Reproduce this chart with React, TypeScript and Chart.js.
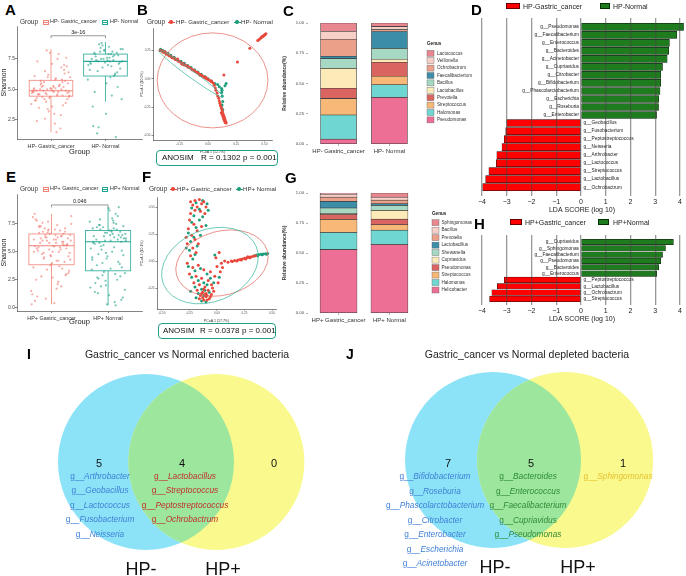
import React, { useEffect, useRef } from "react";
import { Chart, registerables } from "chart.js";

Chart.register(...registerables);

const FONT = "'Liberation Sans', Arial, Helvetica, sans-serif";
Chart.defaults.font.family = FONT;
Chart.defaults.color = "#333";

// ================= Panels A / E : Shannon index =================
const hpNegGroups = ["HP- Gastric_cancer", "HP- Normal"];
const hpPosGroups = ["HP+ Gastric_cancer", "HP+ Normal"];
const aYTicks = [2.5, 5, 7.5];
const eYTicks = [0, 2.5, 5, 7.5];
const jitterX = [-0.31,0.12,-0.05,0.27,-0.18,0.33,0.02,-0.26,0.19,-0.11,0.08,-0.34,0.24,-0.02,0.15,-0.22,0.30,-0.08,0.05,-0.29,0.21,-0.14,0.35,-0.04,0.11,-0.19,0.28,-0.33,0.0,0.17,-0.24,0.09,-0.12,0.32,-0.07,0.22,-0.27,0.04,0.14,-0.16,0.26,-0.35,0.07,-0.01,0.19,-0.21,0.31,-0.09,0.13,-0.3,0.23,-0.06,0.03,-0.25,0.34,-0.13,0.1,-0.2,0.25,-0.03,0.16,-0.32,0.06,-0.17,0.29,-0.1,0.2,-0.28,0.01,0.18,-0.23,0.12,-0.15,0.33,-0.06,0.27,-0.36,0.08,-0.02,0.21,-0.19,0.3,-0.11,0.05,-0.26,0.15,-0.08,0.24,-0.31,0.02,0.11,-0.14,0.35,-0.04,0.17,-0.22,0.09,-0.29,0.26,-0.16];
const aShannonGastric = [5.1,4.6,6.2,3.9,5.5,4.8,7.1,4.3,5.0,2.6,5.8,4.9,6.6,4.4,5.3,3.5,4.7,8.2,5.2,4.1,5.6,4.9,6.0,3.2,4.5,5.4,7.6,4.8,5.1,1.8,4.6,5.9,4.2,6.4,5.0,3.7,4.9,5.3,7.9,4.4,5.7,4.7,2.2,5.1,6.8,4.6,5.5,4.0,4.8,6.1,5.2,3.4,4.9,7.3,4.5,5.6,1.5,5.0,6.3,4.3,5.4,4.8,3.0,5.2,6.9,4.7,5.8,4.1,5.0,2.9,4.6,7.5,5.3,4.4,6.0,4.9,3.8,5.1,8.0,4.5,5.7,4.2,6.5,4.8,2.4,5.3,4.6,7.0,5.0,3.6];
const aShannonNormal = [7.4,8.1,6.5,7.8,7.0,8.5,7.2,6.2,7.9,8.3,7.5,4.5,7.1,8.0,6.8,7.6,2.0,7.3,8.7,6.0,7.7,5.2,8.2,7.4,6.6,7.9,1.4,7.2,8.4,6.3,7.5,3.0,7.8,8.0,6.9,7.3,4.2,8.6,7.1,5.8,7.6,8.2,1.1,7.4,6.7,8.1,7.0,3.6,7.7,8.8,6.4,7.2,5.5,7.9,1.9,8.3,7.5,6.1,4.8,7.3];
const eShannonGastric = [6.1,4.2,7.0,5.6,2.8,6.5,5.0,7.8,3.5,6.3,5.8,1.2,6.8,4.7,5.4,7.3,3.1,6.0,5.5,0.6,6.6,4.4,7.5,5.2,2.1,6.2,5.7,8.1,3.9,6.4,5.1,1.7,7.1,4.9,6.7,5.6,2.5,6.1,3.7,7.6,5.3,0.3,6.5,4.6,5.9,7.2,3.3,6.3,5.0,8.4,4.1,6.9,5.5,1.0,6.0,4.5,7.4,5.8,2.9,6.6,5.2,3.6,7.0,4.8,6.2,0.8,5.7,7.9,4.0,6.4,5.4,2.3,6.8,4.3,7.7,5.6,1.5,6.1,3.8,5.9,7.3,4.6,6.5,0.4,5.3,6.9,3.4,7.1,5.0,2.7,6.3,4.9,8.2,5.8,1.9,6.7,4.2,5.5,3.0,6.0];
const eShannonNormal = [6.5,3.0,7.4,5.9,1.8,6.8,4.6,8.2,2.7,6.2,5.6,0.5,7.1,3.9,6.0,8.7,2.2,6.6,5.2,7.8,1.3,6.3,4.4,7.5,3.4,6.9,5.8,0.9,7.2,4.1,6.4,8.9,2.5,6.1,5.4,7.0,1.6,6.7,3.6,7.7,5.0,0.3,6.5,4.8,7.3,2.9,6.0,5.7,8.4,3.2,6.8,4.3,1.1,7.6,5.5,6.2,2.0,7.0,3.8,6.6,5.9,0.7,7.9,4.5,6.3,2.4,5.1,7.4,3.1,6.9,1.4,6.1,4.0,8.0,5.3,2.8,6.7,0.2,7.2,4.7,6.4,3.5,5.8,9.0,1.9,6.0,4.9,7.1,2.6,6.5];
// [lower whisker, Q1, median, Q3, upper whisker]
const aBoxGastric = [1.5, 4.45, 4.9, 5.75, 8.3];
const aBoxNormal = [4.0, 6.1, 7.3, 7.9, 8.9];
const eBoxGastric = [0.3, 3.84, 5.54, 6.6, 8.4];
const eBoxNormal = [0.2, 3.3, 5.9, 6.9, 9.0];
const aPValue = "3e-16";
const ePValue = "0.046";

// ================= Panels B / F : PCoA =================
const bPcoaGastric = [[-0.425,0.252],[-0.41,0.25],[-0.4,0.238],[-0.385,0.232],[-0.37,0.22],[-0.36,0.218],[-0.345,0.205],[-0.33,0.2],[-0.315,0.188],[-0.3,0.182],[-0.29,0.172],[-0.275,0.168],[-0.26,0.155],[-0.25,0.152],[-0.235,0.14],[-0.22,0.133],[-0.21,0.124],[-0.195,0.118],[-0.18,0.106],[-0.165,0.1],[-0.15,0.09],[-0.14,0.082],[-0.125,0.074],[-0.11,0.064],[-0.095,0.056],[-0.08,0.045],[-0.07,0.04],[-0.055,0.03],[-0.04,0.02],[-0.03,0.012],[-0.015,0.004],[0.0,-0.006],[0.015,-0.014],[0.03,-0.026],[0.045,-0.036],[-0.38,0.24],[-0.32,0.19],[-0.27,0.175],[-0.23,0.13],[-0.18,0.112],[-0.12,0.07],[-0.07,0.032],[-0.02,0.014],[0.03,-0.018],[0.055,-0.055],[0.065,-0.08],[0.07,-0.1],[0.08,-0.125],[0.085,-0.15],[0.095,-0.17],[0.1,-0.195],[0.105,-0.215],[0.11,-0.235],[0.118,-0.255],[0.122,-0.27],[0.128,-0.29],[0.132,-0.305],[0.136,-0.318],[0.14,-0.33],[0.143,-0.342],[0.147,-0.352],[0.15,-0.362],[0.153,-0.372],[0.157,-0.382],[0.16,-0.39],[0.132,-0.335],[0.138,-0.355],[0.145,-0.37],[0.152,-0.385],[0.125,-0.315],[0.118,-0.3],[0.14,0.035],[0.26,0.15],[0.37,0.27],[0.44,0.34],[0.452,0.348],[0.462,0.358],[0.472,0.366],[0.482,0.374],[0.49,0.38],[0.498,0.388],[0.505,0.393],[0.512,0.4],[0.476,0.372],[0.494,0.384]];
const bPcoaNormal = [[-0.42,0.262],[-0.4,0.252],[-0.38,0.24],[-0.355,0.226],[-0.33,0.21],[-0.3,0.192],[-0.27,0.174],[-0.24,0.156],[-0.21,0.138],[-0.18,0.118],[-0.15,0.1],[-0.12,0.08],[-0.09,0.062],[-0.06,0.042],[-0.03,0.022],[0.0,0.002],[0.03,-0.018],[0.06,-0.04],[0.085,-0.05],[0.1,-0.07],[0.12,-0.085],[0.124,-0.1],[0.12,-0.12],[0.126,-0.15],[0.13,-0.2],[0.124,-0.23],[0.13,-0.27],[0.118,-0.25],[0.16,-0.04],[0.15,-0.06]];
const fPcoaGastric = [[-0.24,0.55],[-0.2,0.56],[-0.16,0.57],[-0.12,0.55],[-0.22,0.52],[-0.18,0.5],[-0.14,0.53],[-0.1,0.5],[-0.2,0.47],[-0.15,0.46],[-0.24,0.44],[-0.11,0.44],[-0.25,0.38],[-0.21,0.34],[-0.26,0.3],[-0.18,0.28],[-0.23,0.24],[-0.2,0.2],[-0.27,0.16],[-0.22,0.12],[-0.19,0.08],[-0.24,0.05],[-0.17,0.16],[-0.14,0.32],[-0.28,0.22],[-0.27,-0.02],[-0.22,-0.06],[-0.17,-0.04],[-0.12,-0.08],[-0.06,-0.1],[0.0,-0.05],[0.04,-0.02],[-0.25,-0.12],[-0.19,-0.14],[-0.14,-0.16],[-0.08,-0.18],[-0.02,-0.14],[0.03,-0.1],[-0.21,-0.2],[-0.16,-0.22],[-0.11,-0.24],[-0.05,-0.22],[0.01,-0.2],[-0.18,-0.27],[-0.13,-0.29],[-0.08,-0.27],[-0.03,-0.28],[-0.15,-0.32],[-0.1,-0.33],[-0.05,-0.31],[-0.12,-0.36],[-0.07,-0.35],[-0.14,-0.3],[-0.1,-0.3],[-0.09,-0.36],[-0.16,-0.35],[-0.04,-0.25],[0.05,-0.06],[0.07,0.0],[-0.01,0.03],[0.02,0.08],[-0.11,-0.31],[-0.13,-0.34],[-0.06,-0.33],[-0.12,-0.26],[-0.09,-0.32],[0.1,-0.01],[0.13,0.0],[0.16,0.005],[0.19,0.01],[0.21,0.015],[0.23,0.02],[0.25,0.025],[0.27,0.03],[0.29,0.035],[0.31,0.04],[0.33,0.045],[0.35,0.05],[0.14,-0.005],[0.18,0.0],[0.22,0.01],[0.26,0.02],[0.3,0.03],[0.28,0.04]];
const fPcoaNormal = [[-0.19,0.54],[-0.13,0.56],[-0.09,0.53],[-0.23,0.49],[-0.16,0.48],[-0.08,0.47],[-0.21,0.42],[-0.13,0.41],[-0.23,0.36],[-0.19,0.31],[-0.26,0.26],[-0.21,0.22],[-0.16,0.38],[-0.24,0.18],[-0.18,0.14],[-0.25,0.1],[-0.2,0.06],[-0.15,0.24],[-0.28,0.12],[-0.22,0.02],[-0.1,0.33],[-0.02,0.055],[-0.26,-0.05],[-0.2,-0.09],[-0.15,-0.07],[-0.09,-0.12],[-0.23,-0.15],[-0.17,-0.18],[-0.12,-0.2],[-0.06,-0.16],[-0.2,-0.24],[-0.14,-0.26],[-0.09,-0.22],[-0.17,-0.3],[-0.12,-0.32],[-0.07,-0.29],[-0.14,-0.37],[-0.1,-0.38],[-0.19,-0.34],[-0.03,-0.2],[0.02,-0.15],[-0.24,-0.28],[-0.11,-0.27],[0.34,0.05],[0.36,0.055],[0.38,0.06],[0.4,0.062],[0.42,0.065],[0.44,0.068],[0.46,0.07],[0.37,0.05],[0.41,0.058],[0.45,0.063]];
const bXTicks = [-0.25, 0, 0.25, 0.5];
const bYTicks = [-0.5, -0.25, 0, 0.25];
const fXTicks = [-0.5, -0.25, 0, 0.25, 0.5];
const fYTicks = [-0.25, 0, 0.25, 0.5];
// [cx, cy, rx, ry, angle]
const bEllipseGastric = [0.04, -0.013, 0.49, 0.42, 0];
const bEllipseNormal = [-0.15, 0.044, 0.35, 0.03, 36];
const fEllipseGastric = [0.045, -0.019, 0.427, 0.296, -15];
const fEllipseNormal = [-0.064, -0.042, 0.455, 0.333, -22];
const bAnosim = ["ANOSIM", "R = 0.1302", "p = 0.001"];
const fAnosim = ["ANOSIM", "R = 0.0378", "p = 0.001"];

// ================= Panels C / G : relative abundance =================
const cGenus = ["Pseudomonas","Halomonas","Streptococcus","Prevotella","Lactobacillus","Bacillus","Faecalibacterium","Ochrobactrum","Veillonella","Lactococcus"];
const cGastric = [0.04,0.20,0.135,0.085,0.165,0.08,0.02,0.14,0.065,0.07];
const cNormal = [0.385,0.105,0.07,0.115,0.025,0.09,0.14,0.015,0.025,0.03];
const gGenus = ["Helicobacter","Halomonas","Streptococcus","Pseudomonas","Cupriavidus","Shewanella","Lactobacillus","Prevotella","Bacillus","Sphingomonas"];
const gGastric = [0.528,0.142,0.11,0.04,0.01,0.045,0.055,0.035,0.025,0.01];
const gNormal = [0.57,0.12,0.045,0.047,0.073,0.04,0.015,0.03,0.025,0.035];
const genusPalette = ["#EE6F95","#6FD6D1","#F8B877","#DA6560","#FCEBB9","#A7D8C3","#3C8EA8","#EAA089","#F8CFC7","#E8878F"];
const abundanceTicks = [0, 0.25, 0.5, 0.75, 1];

// ================= Panels D / H : LDA =================
const dNormalGenus = ["Pseudomonas","Faecalibacterium","Enterococcus","Bacteroides","Acinetobacter","Cupriavidus","Citrobacter","Bifidobacterium","Phascolarctobacterium","Escherichia","Roseburia","Enterobacter"];
const dNormalLda = [4.14,3.87,3.57,3.54,3.48,3.29,3.22,3.22,3.19,3.14,3.13,3.05];
const dGastricGenus = ["Geobacillus","Fusobacterium","Peptostreptococcus","Neisseria","Arthrobacter","Lactococcus","Streptococcus","Lactobacillus","Ochrobactrum"];
const dGastricLda = [-3.0,-3.04,-3.1,-3.19,-3.4,-3.42,-3.72,-3.85,-3.97];
const hNormalGenus = ["Cupriavidus","Sphingomonas","Faecalibacterium","Pseudomonas","Bacteroides","Enterococcus"];
const hNormalLda = [3.73,3.41,3.29,3.22,3.14,3.06];
const hGastricGenus = ["Peptostreptococcus","Lactobacillus","Ochrobactrum","Streptococcus"];
const hGastricLda = [-3.1,-3.38,-3.6,-3.69];
const ldaTicks = [-4,-3,-2,-1,0,1,2,3,4];

// ================= Panels I / J : Venn =================
const iHpNegOnly = ["Arthrobacter","Geobacillus","Lactococcus","Fusobacterium","Neisseria"];
const iShared = ["Lactobacillus","Streptococcus","Peptostreptococcus","Ochrobactrum"];
const iHpPosOnly: string[] = [];
const jHpNegOnly = ["Bifidobacterium","Roseburia","Phascolarctobacterium","Citrobacter","Enterobacter","Escherichia","Acinetobacter"];
const jShared = ["Bacteroides","Enterococcus","Faecalibacterium","Cupriavidus","Pseudomonas"];
const jHpPosOnly = ["Sphingomonas"];

// ---------- colours ----------
const GC_BOX = "#F08377";
const N_BOX = "#22A794";
const GC_PT = "rgba(240,120,110,0.6)";
const N_PT = "rgba(30,160,140,0.6)";
const PC_RED = "#E8483B";
const PC_GREEN = "#1E9E7B";
const LDA_RED = "#FF0000";
const LDA_GREEN = "#1E7B1E";
const VENN_BLUE = "#8CE3F8";
const VENN_YELLOW = "#F9F98E";
const VENN_GREEN = "#9DE69E";

const base = (extra: any) => {
  const layout = { autoPadding: false, ...(extra.layout || {}) };
  return {
    animation: false,
    responsive: false,
    maintainAspectRatio: false,
    events: [],
    ...extra,
    layout,
    plugins: { legend: { display: false }, tooltip: { enabled: false } },
  };
};

const setTicks = (vals: number[]) => (s: any) => { s.ticks = vals.map((v) => ({ value: v })); };
const fixH = (h: number) => (s: any) => { s.height = h; s.paddingLeft = 0; s.paddingRight = 0; s.paddingTop = 0; s.paddingBottom = 0; };
const fixW = (w: number) => (s: any) => { s.width = w; s.paddingLeft = 0; s.paddingRight = 0; s.paddingTop = 0; s.paddingBottom = 0; };

// ---------- plugins ----------
function boxPlugin(stats: number[][], colors: string[], pText: string, bracketVal: number) {
  return {
    id: "boxes",
    beforeDatasetsDraw(chart: any) {
      const { ctx, scales: { x, y } } = chart;
      ctx.save();
      stats.forEach((s, i) => {
        const c = i + 1;
        const l = x.getPixelForValue(c - 0.4), r = x.getPixelForValue(c + 0.4), m = x.getPixelForValue(c);
        ctx.strokeStyle = colors[i];
        ctx.lineWidth = 0.8;
        ctx.beginPath();
        ctx.moveTo(m, y.getPixelForValue(s[0])); ctx.lineTo(m, y.getPixelForValue(s[1]));
        ctx.moveTo(m, y.getPixelForValue(s[3])); ctx.lineTo(m, y.getPixelForValue(s[4]));
        ctx.stroke();
        const t = y.getPixelForValue(s[3]), b = y.getPixelForValue(s[1]);
        ctx.strokeRect(l, t, r - l, b - t);
        ctx.lineWidth = 1.1;
        const md = y.getPixelForValue(s[2]);
        ctx.beginPath(); ctx.moveTo(l, md); ctx.lineTo(r, md); ctx.stroke();
      });
      ctx.restore();
    },
    afterDatasetsDraw(chart: any) {
      const { ctx, scales: { x, y } } = chart;
      const x1 = x.getPixelForValue(1), x2 = x.getPixelForValue(2), yy = y.getPixelForValue(bracketVal);
      ctx.save();
      ctx.strokeStyle = "#555"; ctx.lineWidth = 0.6;
      ctx.beginPath();
      ctx.moveTo(x1, yy + 2.5); ctx.lineTo(x1, yy); ctx.lineTo(x2, yy); ctx.lineTo(x2, yy + 2.5);
      ctx.stroke();
      ctx.fillStyle = "#222"; ctx.font = `5.5px ${FONT}`; ctx.textAlign = "center"; ctx.textBaseline = "alphabetic";
      ctx.fillText(pText, (x1 + x2) / 2, yy - 2);
      ctx.restore();
    },
  };
}

function ellipsePlugin(list: { e: number[]; color: string }[]) {
  return {
    id: "ellipses",
    afterDatasetsDraw(chart: any) {
      const { ctx, scales: { x, y } } = chart;
      ctx.save(); ctx.lineWidth = 0.7;
      list.forEach(({ e, color }) => {
        const [cx, cy, rx, ry, ang] = e;
        const px = x.getPixelForValue(cx), py = y.getPixelForValue(cy);
        const rpx = Math.abs(x.getPixelForValue(cx + rx) - px), rpy = Math.abs(y.getPixelForValue(cy + ry) - py);
        ctx.beginPath(); ctx.ellipse(px, py, rpx, rpy, (ang * Math.PI) / 180, 0, Math.PI * 2);
        ctx.strokeStyle = color; ctx.stroke();
      });
      ctx.restore();
    },
  };
}

function genusLegend(names: string[], x0: number, y0: number, first: number, step: number, textDx: number) {
  return {
    id: "genusLegend",
    afterDraw(chart: any) {
      const ctx = chart.ctx;
      ctx.save();
      ctx.textBaseline = "middle"; ctx.textAlign = "left";
      ctx.font = `bold 4.6px ${FONT}`; ctx.fillStyle = "#222";
      ctx.fillText("Genus", x0, y0);
      ctx.font = `4.6px ${FONT}`;
      const n = names.length;
      for (let k = 0; k < n; k++) {
        const idx = n - 1 - k;
        const yy = y0 + first + k * step;
        ctx.fillStyle = genusPalette[idx]; ctx.fillRect(x0, yy - 3, 7, 6);
        ctx.strokeStyle = "#666"; ctx.lineWidth = 0.4; ctx.strokeRect(x0, yy - 3, 7, 6);
        ctx.fillStyle = "#333"; ctx.fillText(names[idx], x0 + textDx, yy);
      }
      ctx.restore();
    },
  };
}

function ldaLabels(pos: string[], neg: string[]) {
  return {
    id: "ldaLabels",
    afterDatasetsDraw(chart: any) {
      const ctx = chart.ctx;
      const x0 = chart.scales.x.getPixelForValue(0);
      ctx.save(); ctx.font = `4.8px ${FONT}`; ctx.fillStyle = "#222"; ctx.textBaseline = "middle";
      chart.getDatasetMeta(0).data.forEach((el: any, i: number) => { ctx.textAlign = "right"; ctx.fillText("g__" + pos[i], x0 - 2, el.y); });
      chart.getDatasetMeta(1).data.forEach((el: any, i: number) => { ctx.textAlign = "left"; ctx.fillText("g__" + neg[i], x0 + 2.5, el.y); });
      ctx.restore();
    },
  };
}

const vennOverlap = {
  id: "vennOverlap",
  afterDatasetsDraw(chart: any) {
    const ctx = chart.ctx;
    const pts = chart.getDatasetMeta(0).data;
    const a = pts[0], b = pts[1];
    ctx.save();
    ctx.beginPath(); ctx.arc(a.x, a.y, a.options.radius, 0, Math.PI * 2); ctx.clip();
    ctx.beginPath(); ctx.arc(b.x, b.y, b.options.radius, 0, Math.PI * 2);
    ctx.fillStyle = VENN_GREEN; ctx.fill();
    ctx.restore();
  },
};

// ---------- configs ----------
const axisGrid = { drawOnChartArea: false, drawTicks: true, tickLength: 2, color: "#333", lineWidth: 0.6 };

function shannonConfig(gc: number[], nm: number[], stats: number[][], labels: string[], yTicks: number[], yMin: number, yMax: number, xMin: number, xMax: number, xH: number, pText: string, bracketVal: number) {
  return {
    type: "scatter",
    data: {
      datasets: [
        { data: gc.map((v, i) => ({ x: 1 + jitterX[i % jitterX.length], y: v })), backgroundColor: GC_PT, pointRadius: 1.1, borderWidth: 0 },
        { data: nm.map((v, i) => ({ x: 2 + jitterX[(i + 37) % jitterX.length] * 0.9, y: v })), backgroundColor: N_PT, pointRadius: 1.1, borderWidth: 0 },
      ],
    },
    options: base({
      layout: { padding: { top: 0, right: 4, left: 0, bottom: 0 } },
      scales: {
        x: {
          type: "linear", min: xMin, max: xMax, offset: false,
          afterFit: fixH(xH),
          afterBuildTicks: setTicks([1, 2]),
          ticks: { callback: (v: any) => labels[Math.round(v) - 1], font: { size: 5.4 }, padding: 2, maxRotation: 0, autoSkip: false, color: "#333" },
          grid: axisGrid, border: { color: "#333", width: 0.6 },
          title: { display: true, text: "Group", font: { size: 7.5 }, padding: 0, color: "#222" },
        },
        y: {
          type: "linear", min: yMin, max: yMax,
          afterFit: fixW(17),
          afterBuildTicks: setTicks(yTicks),
          ticks: { callback: (v: any) => Number(v).toFixed(1), font: { size: 5 }, padding: 0, color: "#444" },
          grid: axisGrid, border: { color: "#333", width: 0.6 },
          title: { display: true, text: "Shannon", font: { size: 7 }, padding: 0, color: "#222" },
        },
      },
    }),
    plugins: [boxPlugin(stats, [GC_BOX, N_BOX], pText, bracketVal)],
  };
}

function pcoaConfig(red: number[][], green: number[][], xt: number[], yt: number[], xr: number[], yr: number[], yW: number, padTop: number, padRight: number, ellRed: number[], ellGreen: number[], xTitle: string, yTitle: string) {
  const tick = { font: { size: 3 }, padding: 1, color: "#555", callback: (v: any) => Number(v).toFixed(2) };
  return {
    type: "scatter",
    data: {
      datasets: [
        { data: red.map(([x, y]) => ({ x, y })), backgroundColor: PC_RED, pointRadius: 1.5, borderWidth: 0 },
        { data: green.map(([x, y]) => ({ x, y })), backgroundColor: PC_GREEN, pointRadius: 1.5, borderWidth: 0 },
      ],
    },
    options: base({
      layout: { padding: { top: padTop, right: padRight, left: 0, bottom: 0 } },
      scales: {
        x: {
          type: "linear", min: xr[0], max: xr[1], offset: false,
          afterFit: fixH(14),
          afterBuildTicks: setTicks(xt), ticks: tick,
          grid: { ...axisGrid, tickLength: 1.5 }, border: { color: "#333", width: 0.6 },
          title: { display: true, text: xTitle, font: { size: 3.5 }, padding: 0, color: "#333" },
        },
        y: {
          type: "linear", min: yr[0], max: yr[1],
          afterFit: fixW(yW),
          afterBuildTicks: setTicks(yt), ticks: tick,
          grid: { ...axisGrid, tickLength: 1.5 }, border: { color: "#333", width: 0.6 },
          title: { display: true, text: yTitle, font: { size: 3.5 }, padding: 0, color: "#333" },
        },
      },
    }),
    plugins: [ellipsePlugin([{ e: ellRed, color: "#E0645A" }, { e: ellGreen, color: "#2FB59C" }])],
  };
}

function abundanceConfig(genus: string[], gastric: number[], normal: number[], labels: string[], thick: number, legendX: number, legendFirst: number, legendStep: number, textDx: number) {
  return {
    type: "bar",
    data: {
      datasets: genus.map((g, k) => ({
        label: g,
        data: [{ x: 1, y: gastric[k] }, { x: 2, y: normal[k] }],
        backgroundColor: genusPalette[k], borderColor: "#3a3a3a", borderWidth: 0.6, borderSkipped: false, barThickness: thick,
      })),
    },
    options: base({
      layout: { padding: { top: 8, right: 60, left: 0, bottom: 0 } },
      scales: {
        x: {
          type: "linear", min: 0.4, max: 2.6, stacked: true, offset: false,
          afterFit: fixH(16),
          afterBuildTicks: setTicks([1, 2]),
          ticks: { callback: (v: any) => labels[Math.round(v) - 1], font: { size: 6 }, padding: 2, maxRotation: 0, autoSkip: false, color: "#333" },
          grid: { ...axisGrid, offset: false, color: "#666", lineWidth: 0.5 }, border: { display: false },
        },
        y: {
          type: "linear", min: 0, max: 1, stacked: true,
          afterFit: fixW(30),
          afterBuildTicks: setTicks(abundanceTicks),
          ticks: { callback: (v: any) => Number(v).toFixed(2), font: { size: 4.2 }, padding: 2, color: "#444" },
          grid: { ...axisGrid, color: "#666", lineWidth: 0.5 }, border: { display: false },
          title: { display: true, text: "Relative abundance(%)", font: { size: 5, weight: "bold" }, padding: { top: 4, bottom: 0 }, color: "#333" },
        },
      },
    }),
    plugins: [genusLegend(genus, legendX, 29, legendFirst, legendStep, textDx)],
  };
}

function ldaConfig(posNames: string[], posVals: number[], negNames: string[], negVals: number[], yMin: number, yMax: number, thick: number) {
  const n = posVals.length;
  return {
    type: "bar",
    data: {
      datasets: [
        { data: posVals.map((v, i) => ({ x: v, y: i })), backgroundColor: LDA_GREEN, borderColor: "#111", borderWidth: 0.5, borderSkipped: false, barThickness: thick, grouped: false },
        { data: negVals.map((v, i) => ({ x: v, y: n + i })), backgroundColor: LDA_RED, borderColor: "#111", borderWidth: 0.5, borderSkipped: false, barThickness: thick, grouped: false },
      ],
    },
    options: base({
      indexAxis: "y",
      layout: { padding: { top: 6, right: 0, left: 8, bottom: 0 } },
      scales: {
        y: { type: "linear", reverse: true, min: yMin, max: yMax, display: false, offset: false, grid: { offset: false } },
        x: {
          type: "linear", min: -4.16, max: 4.24,
          afterFit: fixH(18),
          afterBuildTicks: setTicks(ldaTicks),
          ticks: { callback: (v: any) => (v < 0 ? "\u2212" + Math.abs(v) : String(v)), font: { size: 7 }, padding: 2, color: "#222" },
          grid: { color: "rgba(70,70,70,0.55)", lineWidth: 1.3, drawTicks: false, z: 1 },
          border: { display: false },
          title: { display: true, text: "LDA SCORE (log 10)", font: { size: 7 }, padding: 0, color: "#222" },
        },
      },
    }),
    plugins: [ldaLabels(posNames, negNames)],
  };
}

function vennConfig(sep: number, radius: number, xr: number[], yr: number[]) {
  return {
    type: "bubble",
    data: {
      datasets: [{
        data: [{ x: -sep, y: 0, r: radius }, { x: sep, y: 0, r: radius }],
        backgroundColor: [VENN_BLUE, VENN_YELLOW], borderWidth: 0, clip: false,
      }],
    },
    options: base({
      layout: { padding: 0 },
      scales: {
        x: { type: "linear", min: xr[0], max: xr[1], display: false },
        y: { type: "linear", min: yr[0], max: yr[1], display: false },
      },
    }),
    plugins: [vennOverlap],
  };
}

// ---------- components ----------
function ChartBox({ left, top, width, height, build }: any) {
  const ref = useRef<HTMLCanvasElement>(null);
  useEffect(() => {
    const chart = new Chart(ref.current as any, build() as any);
    return () => chart.destroy();
  }, []);
  return <canvas ref={ref} width={width} height={height} style={{ position: "absolute", left, top, width, height }} />;
}

function Txt({ x, y, s, c = "#222", b = false, a = "l", children }: any) {
  const tx = a === "c" ? "-50%" : a === "r" ? "-100%" : "0";
  return (
    <div style={{ position: "absolute", left: x, top: y, transform: `translate(${tx},-50%)`, fontSize: s, color: c, fontWeight: b ? "bold" : "normal", lineHeight: 1, whiteSpace: "nowrap", fontFamily: FONT }}>
      {children}
    </div>
  );
}

const BoxKey = ({ x, y, color }: any) => (
  <div style={{ position: "absolute", left: x, top: y - 2.5, width: 6, height: 5, border: `0.8px solid ${color}`, boxSizing: "border-box" }}>
    <div style={{ position: "absolute", left: 0, right: 0, top: 1.5, borderTop: `0.8px solid ${color}` }} />
  </div>
);

const DotKey = ({ x, y, color }: any) => (
  <>
    <div style={{ position: "absolute", left: x - 3.5, top: y - 0.35, width: 7, height: 0.7, background: color }} />
    <div style={{ position: "absolute", left: x - 1.7, top: y - 1.7, width: 3.4, height: 3.4, borderRadius: "50%", background: color }} />
  </>
);

const Anosim = ({ x, y, w, parts, offs }: any) => (
  <div style={{ position: "absolute", left: x, top: y, width: w, height: 16, border: "1.6px solid #1E9E86", borderRadius: 4, boxSizing: "border-box" }}>
    {parts.map((p: string, k: number) => (
      <div key={k} style={{ position: "absolute", left: offs[k], top: "50%", transform: "translateY(-50%)", fontSize: 8, lineHeight: 1, fontFamily: FONT, color: "#111", whiteSpace: "nowrap" }}>{p}</div>
    ))}
  </div>
);

const Genus = ({ name }: any) => (<span>g__<i>{name}</i></span>);

export default function App() {
  return (
    <div style={{ position: "absolute", left: 0, top: 0, width: 686, height: 576, background: "#fff", overflow: "hidden", fontFamily: FONT }}>
      {/* A */}
      <ChartBox left={0} top={26} width={146} height={130}
        build={() => shannonConfig(aShannonGastric, aShannonNormal, [aBoxGastric, aBoxNormal], hpNegGroups, aYTicks, 0.94, 10.2, 0.376, 2.67, 17, aPValue, 9.4)} />
      {/* E */}
      <ChartBox left={0} top={194} width={146} height={132}
        build={() => shannonConfig(eShannonGastric, eShannonNormal, [eBoxGastric, eBoxNormal], hpPosGroups, eYTicks, -0.3, 10.18, 0.39, 2.6, 15, ePValue, 9.2)} />
      {/* B */}
      <ChartBox left={140} top={26} width={140} height={128}
        build={() => pcoaConfig(bPcoaGastric, bPcoaNormal, bXTicks, bYTicks, [-0.487, 0.566], [-0.54, 0.45], 13, 2, 8, bEllipseGastric, bEllipseNormal, "PCoA 1 (12.7%)", "PCoA 2 (10.0%)")} />
      {/* F */}
      <ChartBox left={140} top={195} width={140} height={128}
        build={() => pcoaConfig(fPcoaGastric, fPcoaNormal, fXTicks, fYTicks, [-0.545, 0.536], [-0.444, 0.593], 17, 2, 4, fEllipseGastric, fEllipseNormal, "PCoA 1 (17.7%)", "PCoA 2 (10.1%)")} />
      {/* C */}
      <ChartBox left={278} top={15} width={202} height={145}
        build={() => abundanceConfig(cGenus, cGastric, cNormal, hpNegGroups, 36, 149, 9.3, 7.4, 10)} />
      {/* G */}
      <ChartBox left={278} top={185} width={202} height={144}
        build={() => abundanceConfig(gGenus, gGastric, gNormal, hpPosGroups, 37, 154, 8.7, 7.48, 9.5)} />
      {/* D */}
      <ChartBox left={470} top={12} width={216} height={202}
        build={() => ldaConfig(dNormalGenus, dNormalLda, dGastricGenus, dGastricLda, -1.1, 21.1, 7)} />
      {/* H */}
      <ChartBox left={470} top={229} width={216} height={94}
        build={() => ldaConfig(hNormalGenus, hNormalLda, hGastricGenus, hGastricLda, -1.1, 9.96, 5.5)} />
      {/* I */}
      <ChartBox left={0} top={340} width={343} height={236}
        build={() => vennConfig(0.4, 88, [-2.059, 1.839], [-1.296, 1.386])} />
      {/* J */}
      <ChartBox left={343} top={340} width={343} height={236}
        build={() => vennConfig(0.41, 88, [-2.115, 1.783], [-1.318, 1.364])} />

      {/* panel letters */}
      <Txt x={5} y={9} s={15} b c="#000">A</Txt>
      <Txt x={137} y={9} s={15} b c="#000">B</Txt>
      <Txt x={283} y={10} s={15} b c="#000">C</Txt>
      <Txt x={471} y={9} s={15} b c="#000">D</Txt>
      <Txt x={6} y={176} s={15} b c="#000">E</Txt>
      <Txt x={142} y={176} s={15} b c="#000">F</Txt>
      <Txt x={285} y={177} s={15} b c="#000">G</Txt>
      <Txt x={474} y={223} s={15} b c="#000">H</Txt>
      <Txt x={27} y={354} s={14} b c="#000">I</Txt>
      <Txt x={346} y={354} s={14} b c="#000">J</Txt>

      {/* A / E legends */}
      <Txt x={20} y={22} s={6.5} c="#333">Group</Txt>
      <BoxKey x={43} y={22} color={GC_BOX} />
      <Txt x={50} y={22} s={5.4} c="#333">{hpNegGroups[0]}</Txt>
      <BoxKey x={102} y={22} color={N_BOX} />
      <Txt x={110} y={22} s={5.4} c="#333">{hpNegGroups[1]}</Txt>
      <Txt x={20} y={189} s={6.5} c="#333">Group</Txt>
      <BoxKey x={43} y={189} color={GC_BOX} />
      <Txt x={50} y={189} s={5.4} c="#333">{hpPosGroups[0]}</Txt>
      <BoxKey x={102} y={189} color={N_BOX} />
      <Txt x={110} y={189} s={5.4} c="#333">{hpPosGroups[1]}</Txt>

      {/* B / F legends */}
      <Txt x={147} y={22} s={6.5} c="#333">Group</Txt>
      <DotKey x={171} y={22} color={PC_RED} />
      <Txt x={176} y={22} s={6.1} c="#333">{hpNegGroups[0]}</Txt>
      <DotKey x={237} y={22} color={PC_GREEN} />
      <Txt x={241} y={22} s={6.1} c="#333">{hpNegGroups[1]}</Txt>
      <Txt x={149} y={189} s={6.5} c="#333">Group</Txt>
      <DotKey x={173} y={189} color={PC_RED} />
      <Txt x={177} y={189} s={6.1} c="#333">{hpPosGroups[0]}</Txt>
      <DotKey x={239} y={189} color={PC_GREEN} />
      <Txt x={243} y={189} s={6.1} c="#333">{hpPosGroups[1]}</Txt>

      <Anosim x={156} y={150} w={122} parts={bAnosim} offs={[5, 44, 86]} />
      <Anosim x={158} y={323} w={118} parts={fAnosim} offs={[4, 41, 83]} />

      {/* D / H legends */}
      <div style={{ position: "absolute", left: 506, top: 3, width: 14, height: 6, background: LDA_RED, border: "0.5px solid #600", boxSizing: "border-box" }} />
      <Txt x={523} y={6} s={7} c="#222">HP-Gastric_cancer</Txt>
      <div style={{ position: "absolute", left: 600, top: 3, width: 10, height: 6, background: LDA_GREEN, border: "0.5px solid #030", boxSizing: "border-box" }} />
      <Txt x={613} y={6} s={7} c="#222">HP-Normal</Txt>
      <div style={{ position: "absolute", left: 510, top: 219, width: 12, height: 6, background: LDA_RED, border: "0.5px solid #600", boxSizing: "border-box" }} />
      <Txt x={525} y={222} s={7} c="#222">HP+Gastric_cancer</Txt>
      <div style={{ position: "absolute", left: 598, top: 219, width: 11, height: 6, background: LDA_GREEN, border: "0.5px solid #030", boxSizing: "border-box" }} />
      <Txt x={613} y={222} s={7} c="#222">HP+Normal</Txt>

      {/* Venn I */}
      <Txt x={187} y={354} s={10.5} a="c" c="#222">Gastric_cancer vs Normal enriched bacteria</Txt>
      <Txt x={99} y={463} s={11} a="c" c="#111">{iHpNegOnly.length}</Txt>
      <Txt x={182} y={463} s={11} a="c" c="#111">{iShared.length}</Txt>
      <Txt x={274} y={463} s={11} a="c" c="#111">{iHpPosOnly.length}</Txt>
      {iHpNegOnly.map((g, k) => <Txt key={"ia" + k} x={100} y={476 + k * 14.4} s={8.3} a="c" c="#3F7FD6"><Genus name={g} /></Txt>)}
      {iShared.map((g, k) => <Txt key={"ib" + k} x={185} y={476 + k * 14.4} s={8.3} a="c" c="#C0302A"><Genus name={g} /></Txt>)}
      <Txt x={141} y={569} s={18} a="c" c="#111">HP-</Txt>
      <Txt x={223} y={569} s={18} a="c" c="#111">HP+</Txt>

      {/* Venn J */}
      <Txt x={527} y={354} s={10.5} a="c" c="#222">Gastric_cancer vs Normal depleted bacteria</Txt>
      <Txt x={448} y={463} s={11} a="c" c="#111">{jHpNegOnly.length}</Txt>
      <Txt x={531} y={463} s={11} a="c" c="#111">{jShared.length}</Txt>
      <Txt x={623} y={463} s={11} a="c" c="#111">{jHpPosOnly.length}</Txt>
      {jHpNegOnly.map((g, k) => <Txt key={"ja" + k} x={435} y={476 + k * 14.5} s={8.3} a="c" c="#3F7FD6"><Genus name={g} /></Txt>)}
      {jShared.map((g, k) => <Txt key={"jb" + k} x={528} y={476 + k * 14.5} s={8.3} a="c" c="#2E8B35"><Genus name={g} /></Txt>)}
      {jHpPosOnly.map((g, k) => <Txt key={"jc" + k} x={618} y={476 + k * 14.5} s={8.3} a="c" c="#E6C230"><Genus name={g} /></Txt>)}
      <Txt x={495} y={567} s={18} a="c" c="#111">HP-</Txt>
      <Txt x={578} y={567} s={18} a="c" c="#111">HP+</Txt>
    </div>
  );
}
